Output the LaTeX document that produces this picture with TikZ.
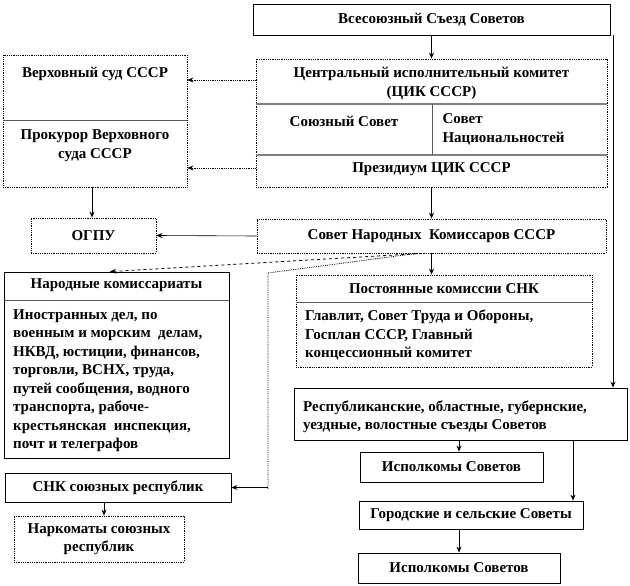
\documentclass[tikz,border=0pt]{standalone}
\usepackage{fontspec}
\setmainfont{Liberation Serif}
\usetikzlibrary{arrows.meta, positioning, calc}

\begin{document}
\begin{tikzpicture}[x=1pt,y=-1pt,>={Stealth[length=6pt,width=5pt]},
        font=\fontsize{15}{18.5}\selectfont\bfseries,
        box/.style={draw, line width=0.8pt, inner sep=0pt, align=center},
        dbox/.style={box, densely dotted},
        sep/.style={draw=black!65, line width=1pt},
        csep/.style={draw=black!50, line width=1.6pt},
        arr/.style={->, line width=0.8pt},
        darr/.style={->, line width=0.8pt, densely dotted}]
    \useasboundingbox (0,0) rectangle (630,586);

    % boxes
    \node[box, minimum width=357, minimum height=31] (sezd) at (431.5,19.5) {Всесоюзный Съезд Советов};
    \node[dbox, minimum width=351, minimum height=128] (cik) at (431.5,123) {};
    \node[dbox, minimum width=184, minimum height=132] (sud) at (95,121) {};
    \node[dbox, minimum width=125, minimum height=35] (ogpu) at (93.5,235.5) {ОГПУ};
    \node[dbox, minimum width=349, minimum height=34] (snk) at (431.5,236) {Совет Народных~ Комиссаров СССР};
    \node[box, minimum width=225, minimum height=186] (nkom) at (116.5,365) {};
    \node[dbox, minimum width=296, minimum height=92] (postk) at (444,321) {};
    \node[box, minimum width=333, minimum height=52] (resp) at (460.5,414) {};
    \node[box, minimum width=183, minimum height=30] (isp) at (451.5,467) {Исполкомы Советов};
    \node[box, minimum width=224, minimum height=28] (gorod) at (471,515) {Городские и сельские Советы};
    \node[box, minimum width=202, minimum height=30] (ispb) at (459,568) {Исполкомы Советов};
    \node[box, minimum width=226, minimum height=29] (snkr) at (118,487.5) {СНК союзных республик};
    \node[dbox, minimum width=170, minimum height=46] (nkr) at (99,539) {Наркоматы союзных\\республик};

    % parts of boxes
    \draw[csep] (cik.west |- 0,104) -- (cik.east |- 0,104);
    \draw[csep] (cik.west |- 0,155) -- (cik.east |- 0,155);
    \draw[sep] (432,104) -- (432,155);
    \node[align=center] (cikt) at (431.5,83.5) {Центральный исполнительный комитет\\(ЦИК СССР)};
    \node (sovs) at (344,121) {Союзный Совет};
    \node[anchor=west, align=left] (sovn) at (439,129.5) {Совет\\Национальностей};
    \node (prez) at (431.5,169) {Президиум ЦИК СССР};

    \draw[sep] (sud.west |- 0,121) -- (sud.east |- 0,121);
    \node (vsud) at (95,74) {Верховный суд СССР};
    \node[align=center] (prok) at (95,145.5) {Прокурор Верховного\\суда СССР};

    \draw[sep] (nkom.west |- 0,300) -- (nkom.east |- 0,300);
    \node (nkomt) at (116.5,285.5) {Народные комиссариаты};
    \node[anchor=north west, align=left, inner sep=0pt] (nkoml) at (13,309) {Иностранных дел, по\\военным и морским~ делам,\\НКВД, юстиции, финансов,\\торговли, ВСНХ, труда,\\путей сообщения, водного\\транспорта, рабоче-\\крестьянская~ инспекция,\\почт и телеграфов};

    \draw[sep] (postk.west |- 0,302) -- (postk.east |- 0,302);
    \node (postkt) at (444,289) {Постоянные комиссии СНК};
    \node[anchor=west, align=left, inner sep=0pt] (postkl) at (305,335) {Главлит, Совет Труда и Обороны,\\Госплан СССР, Главный\\концессионный комитет};

    \node[anchor=west, align=left, inner sep=0pt] (respl) at (303,416.5) {Республиканские, областные, губернские,\\уездные, волостные съезды Советов};

    % connectors
    \coordinate (rl) at (613,35);
    \draw[arr] (sezd.south) -- (cik.north);
    \draw[arr] (rl) -- (rl |- resp.north);
    \draw[darr] (cik.west |- 0,80) -- (sud.east |- 0,80);
    \draw[darr] (cik.west |- 0,168) -- (sud.east |- 0,168);
    \draw[arr] (sud.south -| 92,0) -- (ogpu.north -| 92,0);
    \draw[arr] (cik.south) -- (snk.north);
    \draw[->, line width=0.6pt] (snk.west) -- (ogpu.east);
    \draw[arr] (snk.south) -- (snk.south |- postk.north);
    \draw[->, line width=0.8pt, dashed] (snk.south -| 422,0) -- (nkom.north -| 110,0);
    \coordinate (snkc) at (268,273);
    \draw[line width=0.8pt, densely dotted] (snk.south -| 417,0) -- (snkc) -- (snkc |- 0,489);
    \draw[arr] (snkc |- snkr.east) -- (snkr.east);
    \draw[arr] (snkr.south -| 104,0) -- (nkr.north -| 104,0);
    \draw[arr] (resp.south -| 459,0) -- (isp.north -| 459,0);
    \draw[arr] (resp.south -| 573,0) -- (gorod.north -| 573,0);
    \draw[arr] (gorod.south -| 459,0) -- (ispb.north -| 459,0);
\end{tikzpicture}
\end{document}
